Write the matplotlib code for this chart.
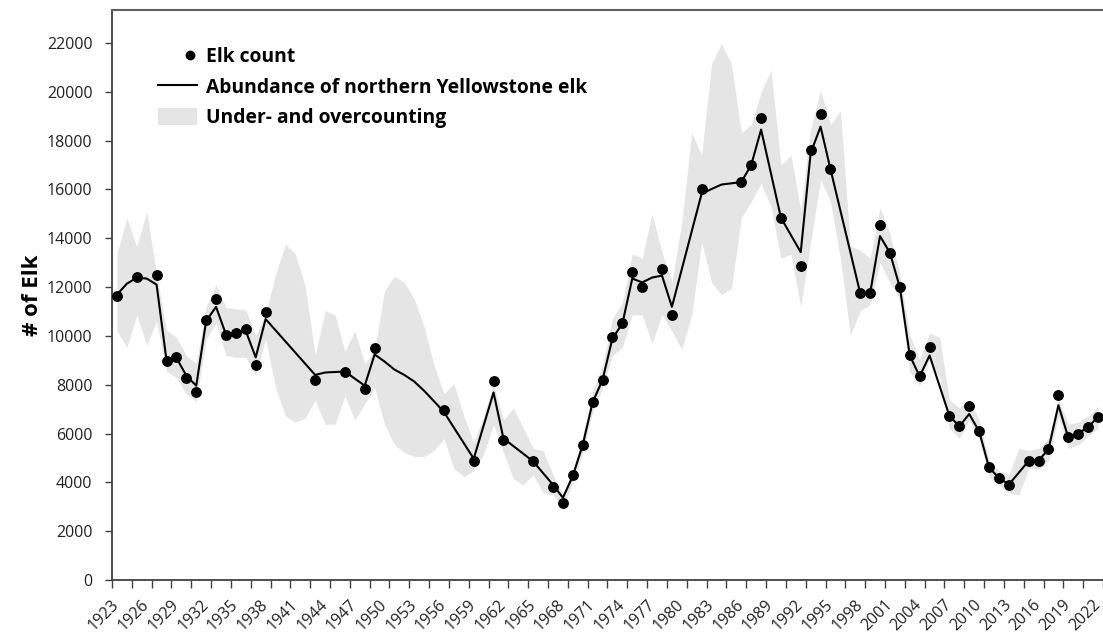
import numpy as np
import matplotlib.pyplot as plt
from matplotlib.lines import Line2D
from matplotlib.patches import Patch
from matplotlib.legend_handler import HandlerLine2D

# elk counts (dots)
count_years = [1923, 1925, 1927, 1928, 1929, 1930, 1931, 1932, 1933, 1934, 1935, 1936,
               1937, 1938, 1943, 1946, 1948, 1949, 1956, 1959, 1961, 1962, 1965, 1967,
               1968, 1969, 1970, 1971, 1972, 1973, 1974, 1975, 1976, 1978, 1979, 1982,
               1986, 1987, 1988, 1990, 1992, 1993, 1994, 1995, 1998, 1999, 2000, 2001,
               2002, 2003, 2004, 2005, 2007, 2008, 2009, 2010, 2011, 2012, 2013, 2015,
               2016, 2017, 2018, 2019, 2020, 2021, 2022]
counts = [11650, 12420, 12490, 8990, 9120, 8260, 7710, 10650, 11510, 10030, 10110, 10280,
          8790, 10990, 8210, 8510, 7830, 9500, 6960, 4890, 8140, 5740, 4860, 3830,
          3150, 4290, 5540, 7280, 8210, 9960, 10510, 12620, 12020, 12720, 10840, 16030,
          16300, 17000, 18920, 14840, 12850, 17610, 19070, 16830, 11750, 11750, 14560, 13400,
          11990, 9200, 8340, 9530, 6720, 6300, 7130, 6090, 4610, 4180, 3910, 4880,
          4890, 5360, 7590, 5840, 6000, 6270, 6680]

# modelled abundance (line)
line_years = [1923, 1924, 1925, 1926, 1927, 1928, 1929, 1930, 1931, 1932, 1933, 1934,
              1935, 1936, 1937, 1938, 1943, 1944, 1946, 1947, 1948, 1949, 1950, 1951,
              1952, 1953, 1954, 1955, 1956, 1959, 1961, 1962, 1965, 1967, 1968, 1969,
              1970, 1971, 1972, 1973, 1974, 1975, 1976, 1977, 1978, 1979, 1982, 1984,
              1986, 1987, 1988, 1990, 1992, 1993, 1994, 1995, 1998, 1999, 2000, 2001,
              2002, 2003, 2004, 2005, 2007, 2008, 2009, 2010, 2011, 2012, 2013, 2015,
              2016, 2017, 2018, 2019, 2020, 2021, 2022]
abundance = [11690, 12140, 12380, 12350, 12100, 9000, 9100, 8370, 7960, 10610, 11190, 10060,
             10100, 10200, 9120, 10690, 8400, 8500, 8540, 8250, 7960, 9240, 8950, 8620,
             8400, 8130, 7750, 7320, 6880, 4970, 7680, 5800, 4860, 3900, 3370, 4260,
             5540, 7280, 8200, 9900, 10500, 12350, 12190, 12390, 12470, 11190, 15830, 16200,
             16300, 17000, 18450, 14840, 13430, 17490, 18570, 16830, 11750, 11750, 14090, 13400,
             11990, 9200, 8340, 9200, 6720, 6300, 6800, 6090, 4610, 4180, 3910, 4880,
             4890, 5360, 7160, 5840, 6000, 6270, 6680]

# under- and overcounting band
band_years = list(range(1923, 2023))
band_upper = [13350, 14840, 13650, 15090, 12520, 10230, 9950, 9200, 8870, 11190, 12100, 11160,
              11110, 11060, 10030, 10900, 12500, 13760, 13350, 12020, 9200, 11030, 10860, 9370,
              10200, 8870, 9400, 11850, 12440, 12190, 11520, 10360, 8790, 7630, 8040, 6715,
              5640, 6715, 8040, 6550, 7050, 6220, 5390, 5305, 4310, 3480, 4480, 5890,
              7710, 8790, 10700, 11360, 13350, 13180, 15000, 13430, 12190, 14670, 18320, 17410,
              21140, 21970, 21140, 18320, 18650, 19980, 20890, 16990, 17410, 15170, 18490, 20060,
              18650, 19230, 13680, 13510, 13180, 15250, 14180, 12520, 10030, 9035, 10110, 9950,
              7380, 7050, 7380, 6550, 4890, 4480, 4310, 5390, 5305, 5390, 5800, 7380,
              6380, 6470, 6715, 7130]
band_lower = [10200, 9530, 10860, 9620, 10610, 8540, 8290, 7630, 7300, 9870, 10530, 9200,
              9120, 9120, 8370, 9870, 7880, 6715, 6470, 6630, 7380, 6380, 6380, 7540,
              6550, 7210, 7880, 6380, 5550, 5220, 5060, 5060, 5305, 5800, 4560, 4230,
              4480, 5140, 6380, 5220, 4145, 3900, 4310, 3565, 3480, 2985, 3980, 5220,
              6880, 7880, 9200, 9530, 10860, 10860, 9700, 10860, 10200, 9450, 10860, 13840,
              12190, 11690, 11940, 14840, 15500, 16250, 15300, 13180, 13350, 11190, 13840, 16410,
              15500, 13180, 10030, 11030, 11270, 13010, 12190, 11520, 8540, 7960, 9035, 8300,
              6220, 5800, 6550, 5800, 4230, 3900, 3565, 3480, 4560, 4560, 4890, 6715,
              5390, 5550, 5890, 6220]

y_ticks = list(range(0, 22001, 2000))
label_years = list(range(1923, 2023, 3))


class RightDotHandler(HandlerLine2D):
    # single marker is drawn at the middle of xdata, so shift the span to the right
    def get_xdata(self, legend, xdescent, ydescent, width, height, fontsize):
        xdata = [-xdescent + 0.64 * width, -xdescent + width]
        return xdata, xdata


plt.rcParams['font.family'] = ['Open Sans', 'DejaVu Sans']

fig = plt.figure(figsize=(11.03, 6.34), dpi=100)
ax = fig.add_axes([112 / 1103, 54 / 634, 1 - 112 / 1103, 570 / 634])

band_color = '#e5e5e5'
ax.fill_between(band_years, band_lower, band_upper, color=band_color, lw=0, zorder=1)
ax.plot(line_years, abundance, color='black', lw=1.5, zorder=2)
ax.plot(count_years, counts, 'o', color='black', ms=6.8, zorder=3)

ax.set_xlim(1922.5, 2022.14)
ax.set_ylim(0, 23350)

ax.set_yticks(y_ticks)
ax.set_yticklabels([str(v) for v in y_ticks], fontsize=11.5, color='#222222')
ax.tick_params(axis='y', direction='out', length=5, width=1, color='#404040', pad=9)

# tick marks on category boundaries, labels on category centres
ax.set_xticks(np.arange(1922.5, 2023, 2))
ax.set_xticklabels([])
ax.tick_params(axis='x', which='major', direction='out', length=6, width=1, color='#404040')
ax.set_xticks(label_years, minor=True)
ax.set_xticklabels([str(y) for y in label_years], minor=True, rotation=45,
                   ha='right', va='center', rotation_mode='anchor', fontsize=11.5,
                   color='#222222')
ax.tick_params(axis='x', which='minor', length=0, pad=16)

for s in ['left', 'bottom']:
    ax.spines[s].set_color('#404040')
    ax.spines[s].set_linewidth(1.3)
ax.spines['top'].set_color('#606060')
ax.spines['top'].set_linewidth(1.5)
ax.spines['right'].set_visible(False)

ax.set_ylabel('# of Elk', fontsize=16, fontweight='bold', labelpad=3)

dot_handle = Line2D([], [], marker='o', color='black', ls='none', ms=6)
handles = [
    dot_handle,
    Line2D([], [], color='black', lw=1.5),
    Patch(facecolor=band_color, edgecolor='none'),
]
labels = ['Elk count', 'Abundance of northern Yellowstone elk', 'Under- and overcounting']
ax.legend(handles, labels, loc='upper left', bbox_to_anchor=(0.0464, 0.935), frameon=False,
          prop={'size': 13.9, 'weight': 'bold'}, handlelength=2.0, handleheight=0.95,
          handletextpad=0.5, labelspacing=0.55, borderpad=0, borderaxespad=0,
          handler_map={dot_handle: RightDotHandler(numpoints=1)})

fig.savefig('out.png', dpi=100)
